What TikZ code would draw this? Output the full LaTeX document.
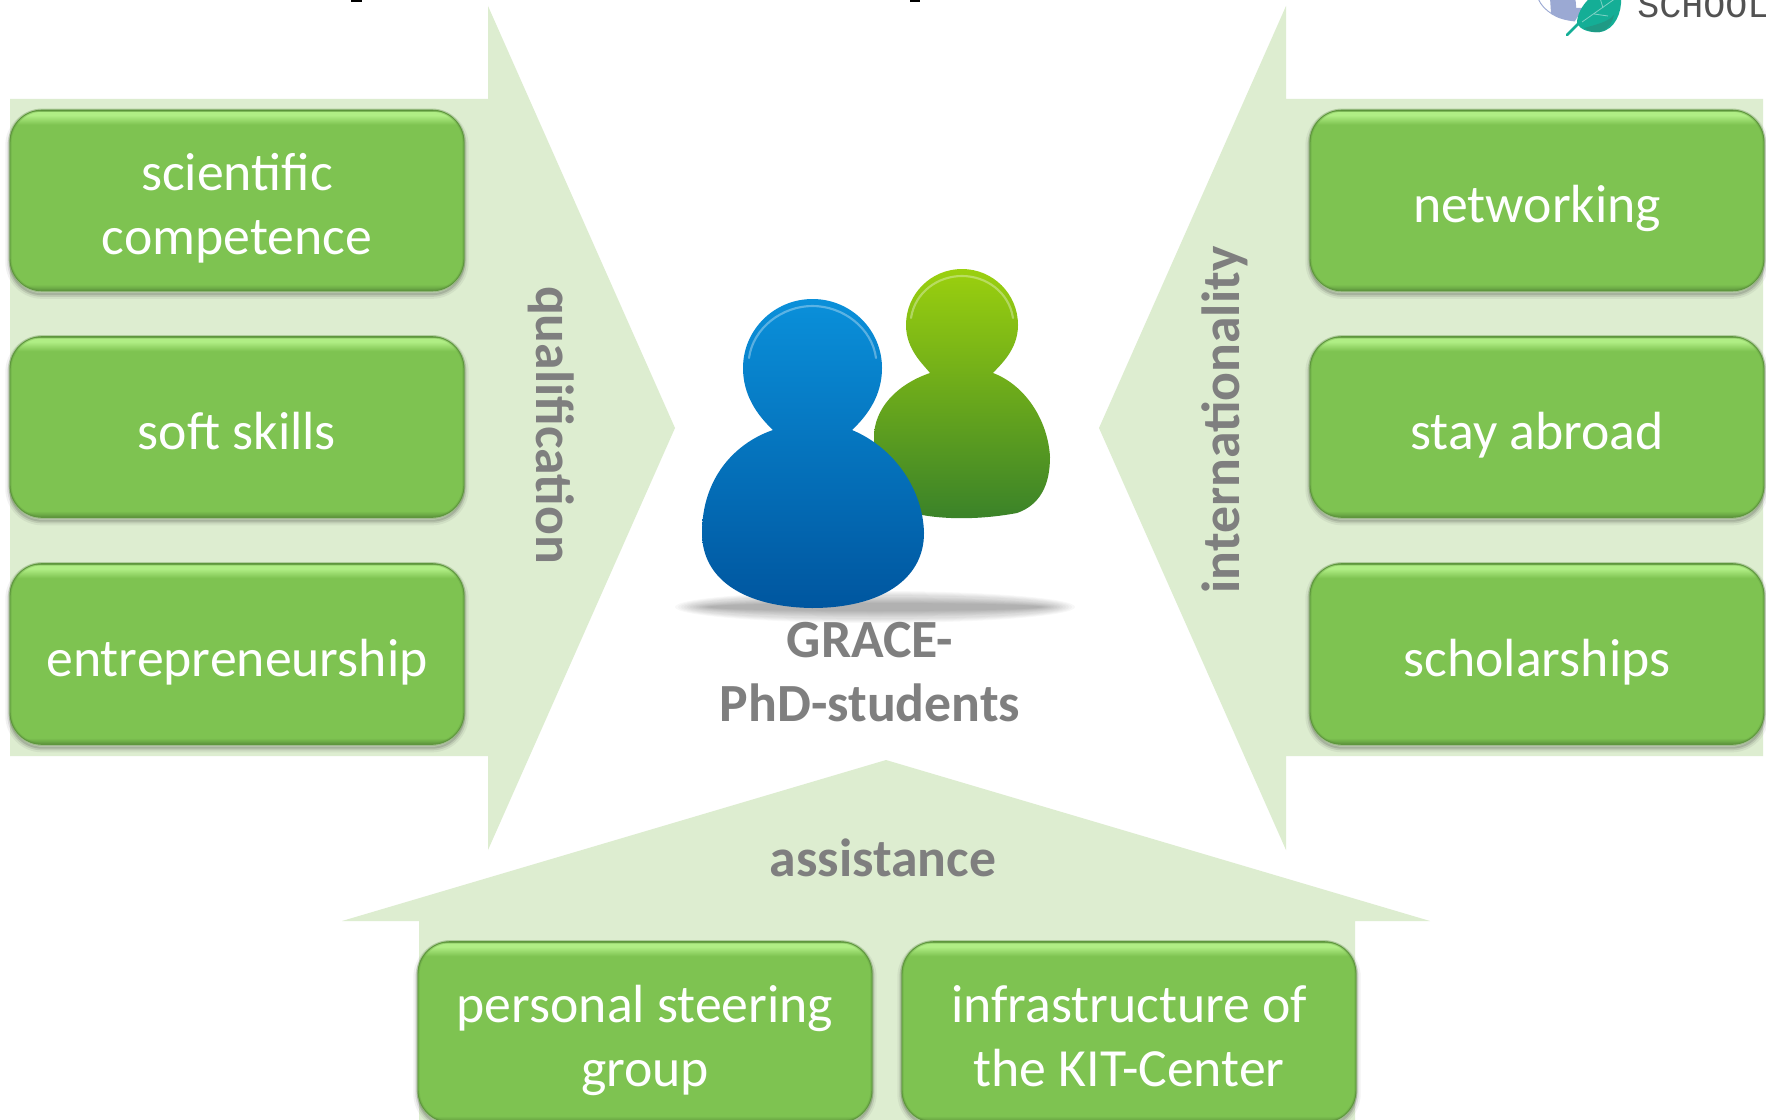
\documentclass[tikz,border=0pt]{standalone}
\usepackage{fontspec}
\setmainfont{Carlito}
\newfontfamily\logofont{Liberation Mono}
\definecolor{pale}{HTML}{DDEDD0}
\definecolor{boxmain}{HTML}{7EC351}
\definecolor{boxrim}{HTML}{5E963D}
\definecolor{boxlight}{HTML}{B0EE85}
\definecolor{graytext}{HTML}{7F7F7F}
\definecolor{manbluelow}{HTML}{00569F}
\definecolor{manbluehigh}{HTML}{0A90DA}
\definecolor{mangreenlow}{HTML}{3A8229}
\definecolor{mangreenhigh}{HTML}{9BD00E}
\definecolor{leafmain}{HTML}{14AE96}
\definecolor{leafdark}{HTML}{1F9A85}
\definecolor{globe}{HTML}{9BA9D3}
\pgfdeclareverticalshading{boxshade}{100bp}{
  color(0bp)=(boxrim); color(25bp)=(boxrim);
  color(26.8bp)=(boxmain); color(71bp)=(boxmain);
  color(73.6bp)=(boxlight); color(74.6bp)=(boxlight); color(75bp)=(boxrim); color(100bp)=(boxrim)}
\pgfdeclareverticalshading{blueman}{100bp}{
  color(0bp)=(manbluelow); color(25bp)=(manbluelow); color(75bp)=(manbluehigh); color(100bp)=(manbluehigh)}
\pgfdeclareverticalshading{greenman}{100bp}{
  color(0bp)=(mangreenlow); color(25bp)=(mangreenlow); color(75bp)=(mangreenhigh); color(100bp)=(mangreenhigh)}
\newcommand{\boxtxt}[1]{\raisebox{-13.4pt}[0pt][0pt]{\begin{tabular}{@{}c@{}}#1\end{tabular}}}
\tikzset{
  x=0.75pt, y=-0.75pt,
  greenbox/.style={rectangle, rounded corners=24pt, minimum width=340.5pt, minimum height=135.5pt,
    inner sep=0pt, align=center, text=white, font=\fontsize{40.3}{48}\selectfont, shading=boxshade,
    draw=boxrim, line width=0.7pt,
    preaction={draw=black, draw opacity=.05, line width=7pt, transform canvas={yshift=-2.5pt}},
    preaction={draw=black, draw opacity=.09, line width=4pt, transform canvas={yshift=-2.5pt}},
    preaction={draw=black, draw opacity=.12, line width=1.5pt, transform canvas={yshift=-2.5pt}},
    postaction={draw=boxrim, draw opacity=.3, line width=2.4pt}},
  arrowbg/.style={fill=pale, draw=none},
  graylabel/.style={inner sep=0pt, text=graytext, font=\fontsize{40.3}{48}\selectfont\bfseries, align=center},
  groundshadow/.style={fill=black, fill opacity=.027},
  gleam/.style={draw=white, draw opacity=.33, line width=1.6pt, line cap=round}
}
\begin{document}
\begin{tikzpicture}
\useasboundingbox (0,0) rectangle (1766,1120);
\clip (0,0) rectangle (1766,1120);
\fill[white] (0,0) rectangle (1766,1120);

% cut-off marks and logo at the top edge
\fill[black] (351,0) rectangle (362,2.5);
\fill[black] (910,0) rectangle (920,2.5);
\draw[globe, line width=.7pt] (1538,-2) .. controls (1541,6) and (1546,10) .. (1552,14) .. controls (1558,18) and (1566,20) .. (1575,21);
\fill[globe] (1550,-2) -- (1551,13) .. controls (1557,18) and (1566,20) .. (1575,21) -- (1583,8) -- (1576,8) .. controls (1576,4) and (1576,1) .. (1575,-2) -- cycle;
\draw[leafmain, line width=2pt, line cap=round] (1567,35) -- (1582,20);
\fill[leafmain] (1621,-2) .. controls (1622,12) and (1615,30) .. (1600,32)
  .. controls (1590,33) and (1580,30) .. (1577,23) .. controls (1577,15) and (1582,5) .. (1590,-2) -- cycle;
\fill[leafdark] (1584,28) .. controls (1595,25) and (1608,22) .. (1614,15) .. controls (1612,24) and (1606,31) .. (1600,32) .. controls (1594,33) and (1588,31) .. (1584,28) -- cycle;
\draw[leafmain!55!white, line width=.6pt] (1582,22) -- (1616,-2) (1594,14) -- (1608,16) (1603,8) -- (1600,-2);
\node[inner sep=0pt, anchor=base west, text=black!68, font=\fontsize{27.5}{30}\logofont] (logotext) at (1637,18) {SCHOOL};

% pale arrows
\path[arrowbg] (10,99) -- (488,99) -- (488,6) -- (675,428) -- (488,850) -- (488,756) -- (10,756) -- cycle;
\path[arrowbg] (1763,99) -- (1286,99) -- (1286,6) -- (1099,428) -- (1286,850) -- (1286,756) -- (1763,756) -- cycle;
\path[arrowbg] (886,760) -- (1430,921) -- (1355,921) -- (1355,1125) -- (419,1125) -- (419,921) -- (342,921) -- cycle;

% boxes
\node[greenbox] (sci) at (237,200.5) {\boxtxt{scientific\\competence}};
\node[greenbox] (soft) at (237,427) {\boxtxt{soft skills}};
\node[greenbox] (ent) at (237,654) {\boxtxt{entrepreneurship}};
\node[greenbox] (net) at (1537,200.5) {\boxtxt{networking}};
\node[greenbox] (stay) at (1537,427) {\boxtxt{stay abroad}};
\node[greenbox] (sch) at (1537,654) {\boxtxt{scholarships}};
\node[greenbox] (steer) at (645,1032) {\boxtxt{personal steering\\group}};
\node[greenbox] (infra) at (1129,1032) {\boxtxt{infrastructure of\\the KIT-Center}};

% labels
\node[graylabel, rotate=-90] (qual) at (551,425) {qualification};
\node[graylabel, rotate=90] (inter) at (1225,420) {internationality};
\node[graylabel] (assist) at (883,858) {assistance};
\node[graylabel] (phd) at (870,672) {GRACE-\\PhD-students};

% ground shadow
\foreach \r/\s in {200/16,197/15,194/14,191/13,188/12,185/10,182/9,179/8,176/7,173/6,170/5,167/4}{
  \path[groundshadow] (875,607) ellipse[x radius=\r, y radius=\s];
}

% green person
\path[shading=greenman]
  (930,373) .. controls (895,385) and (874,410) .. (874,437) -- (874,500) -- (922,515)
  .. controls (950,520) and (985,519) .. (1017,513)
  .. controls (1040,505) and (1050,485) .. (1050,457)
  .. controls (1048,420) and (1025,385) .. (993,373)
  .. controls (1000,365) and (1018,350) .. (1018,325)
  .. controls (1018,294) and (993,269) .. (962,269)
  .. controls (931,269) and (906,294) .. (906,325)
  .. controls (906,350) and (924,365) .. (930,373) -- cycle;
\draw[gleam] (911,318) .. controls (915,292) and (938,276) .. (962,276) .. controls (986,276) and (1009,292) .. (1013,318);

% blue person
\path[shading=blueman]
  (773,430) .. controls (735,443) and (702,478) .. (702,533)
  .. controls (702,580) and (745,607) .. (812,608)
  .. controls (880,608) and (924,580) .. (924,533)
  .. controls (923,490) and (895,448) .. (852,430)
  .. controls (868,415) and (882,395) .. (882,368)
  .. controls (882,330) and (851,299) .. (812.5,299)
  .. controls (774,299) and (743,330) .. (743,368)
  .. controls (743,395) and (757,415) .. (773,430) -- cycle;
\draw[gleam] (749,358) .. controls (753,328) and (782,306) .. (812.5,306) .. controls (843,306) and (872,328) .. (876,358);
\end{tikzpicture}
\end{document}
